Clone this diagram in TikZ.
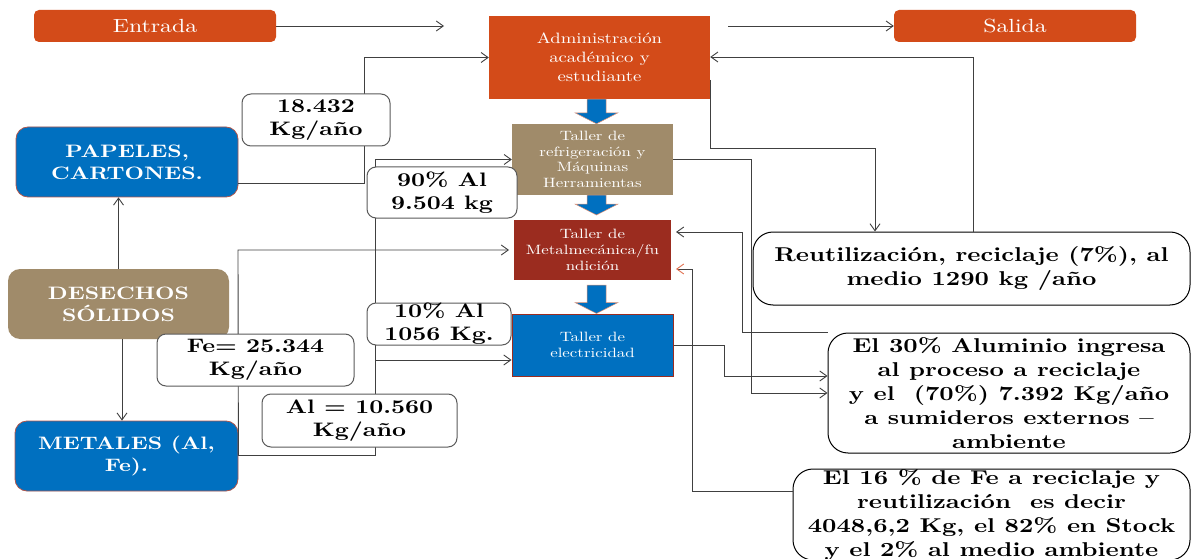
\documentclass[tikz,border=0pt]{standalone}
\usepackage{fontspec}
\setmainfont{lmroman10-regular.otf}[BoldFont=lmroman10-bold.otf, FakeStretch=1.25]
\usetikzlibrary{arrows.meta,calc,shadows}
\definecolor{cOr}{HTML}{D34B19}
\definecolor{cTan}{HTML}{A08B6A}
\definecolor{cRed}{HTML}{9B2C1F}
\definecolor{cBlue}{HTML}{0070C0}
\definecolor{cLine}{HTML}{404040}
\definecolor{cLab}{HTML}{5A5A5A}
\definecolor{cTip}{HTML}{E07050}
\newcommand\blkarrow[2]{\fill[blkfill] let \p1=(#1.south), \p2=(#2.north) in
  (587pt,\y1) -- (606pt,\y1) -- (606pt,{\y2+11pt}) -- (618pt,{\y2+11pt}) -- (596.5pt,\y2)
  -- (575pt,{\y2+11pt}) -- (587pt,{\y2+11pt}) -- cycle;}
\begin{document}
\begin{tikzpicture}[x=1pt,y=-1pt,
  box/.style={inner sep=0pt, align=center, text=white},
  hdr/.style={box, fill=cOr, rounded corners=5pt, font=\fontsize{19}{23}\selectfont},
  shop/.style={box, font=\fontsize{13.5}{15.7}\selectfont},
  big/.style={box, rounded corners=12pt, font=\fontsize{18}{22}\selectfont\bfseries},
  lab/.style={inner sep=0pt, align=center, fill=white, draw=cLab, line width=1pt, rounded corners=9pt,
    font=\fontsize{19.5}{23}\selectfont\bfseries},
  note/.style={inner sep=0pt, align=center, fill=white, draw=black, line width=1pt, rounded corners=20pt,
    font=\fontsize{20}{24}\selectfont\bfseries},
  conn/.style={draw=cLine, line width=0.9pt, -{Straight Barb[length=7pt,width=10pt]}},
  blkfill/.style={fill=cBlue, draw=cOr!60, line width=0.5pt}]
\useasboundingbox (0,0) rectangle (1192,559);

% header boxes
\node[hdr, minimum width=242, minimum height=32] (ent) at (155,26) {Entrada};
\node[hdr, minimum width=242, minimum height=32] (sal) at (1015,26) {Salida};
\coordinate (entEnd) at (444,26);
\coordinate (salStart) at (728,26);

% central column
\node[box, fill=cOr, minimum width=221, minimum height=83, font=\fontsize{15}{19}\selectfont] (adm) at (599.5,57.5)
  {Administración\\académico y\\estudiante};
\node[shop, fill=cTan, minimum width=161, minimum height=71] (ref) at (592.5,159.5)
  {Taller de\\refrigeración y\\Máquinas\\Herramientas};
\node[shop, fill=cRed, draw=white, line width=5pt, minimum width=162, minimum height=65,
  drop shadow={opacity=0.25, shadow xshift=1.5pt, shadow yshift=-1.5pt}] (met) at (592.5,250)
  {Taller de\\Metalmecánica/fu\\ndición};
\node[shop, fill=cBlue, draw=cRed, line width=1pt, minimum width=161, minimum height=62] (ele) at (592.5,345)
  {Taller de\\electricidad};

\blkarrow{adm}{ref}
\blkarrow{ref}{met}
\blkarrow{met}{ele}

% left column
\node[big, fill=cBlue, draw=cRed!80, line width=0.8pt, minimum width=222, minimum height=70] (pap) at (127,162)
  {PAPELES,\\CARTONES.};
\node[big, fill=cTan, minimum width=221, minimum height=70] (des) at (118.5,304)
  {DESECHOS\\SÓLIDOS};
\node[big, fill=cBlue, draw=cRed!80, line width=0.8pt, minimum width=223, minimum height=70] (mtl) at (126.5,456)
  {METALES (Al,\\Fe).};

% right column
\node[note, minimum width=437, minimum height=73] (reu) at (971.5,268.5)
  {Reutilización, reciclaje (7\%), al\\medio 1290 kg /año};
\node[note, minimum width=362, minimum height=120] (a30) at (1009,393)
  {El 30\% Aluminio ingresa\\al proceso a reciclaje\\y el\ \ (70\%) 7.392 Kg/año\\a sumideros externos –\\ambiente};
\node[note, minimum width=397, minimum height=85] (f16) at (991.5,514.5)
  {El 16 \% de Fe a reciclaje y\\reutilización\ \ es decir\\4048,6,2 Kg, el 82\% en Stock\\y el 2\% al medio ambiente};

% connectors
\draw[conn] (ent.east) -- (entEnd);
\draw[conn] (salStart) -- (sal.west);
\draw[conn] (des.north) -- (des.north |- pap.south);
\draw[conn] (des.south -| 122,0) -- (mtl.north -| 122,0);
\draw[conn] (pap.east |- 0,183) -- (364,183) |- (adm.west);
\draw[conn] (mtl.east |- 0,455) -- (375,455) |- (ref.west);
\coordinate (alTrunk) at (375,360);
\draw[conn] (alTrunk) -- (ele.west |- 0,360);
\draw[conn] (mtl.east |- 0,455) -- (238,250) -- (met.west);
\draw[conn] (adm.east |- 0,80) |- (875,148) -- (reu.north -| 875,0);
\draw[conn] (reu.north -| 973,0) |- (adm.east |- 0,57);
\draw[conn] (ref.east) -| (751,393) -- (a30.west);
\draw[conn] (ele.east) -| (724,376) -- (a30.west |- 0,376);
\draw[conn] (a30.north west) -| (742,232) -- (met.east |- 0,232);
\draw[draw=cLine, line width=0.9pt, -{Straight Barb[length=7pt,width=10pt,color=cTip]}]
  (f16.west |- 0,491) -| (692,269) -- (met.east |- 0,269);

% quantity labels (on top of connectors)
\node[lab, minimum width=148, minimum height=52] (l1) at (316,120) {18.432\\Kg/año};
\node[lab, minimum width=150, minimum height=51] (l2) at (442,192.5) {90\% Al\\9.504 kg};
\node[lab, minimum width=144, minimum height=42] (l3) at (439,324) {10\% Al\\1056 Kg.};
\node[lab, minimum width=197, minimum height=52] (l4) at (255.5,360) {Fe= 25.344\\Kg/año};
\node[lab, minimum width=195, minimum height=53] (l5) at (359.5,420.5) {Al = 10.560\\Kg/año};
\end{tikzpicture}
\end{document}
